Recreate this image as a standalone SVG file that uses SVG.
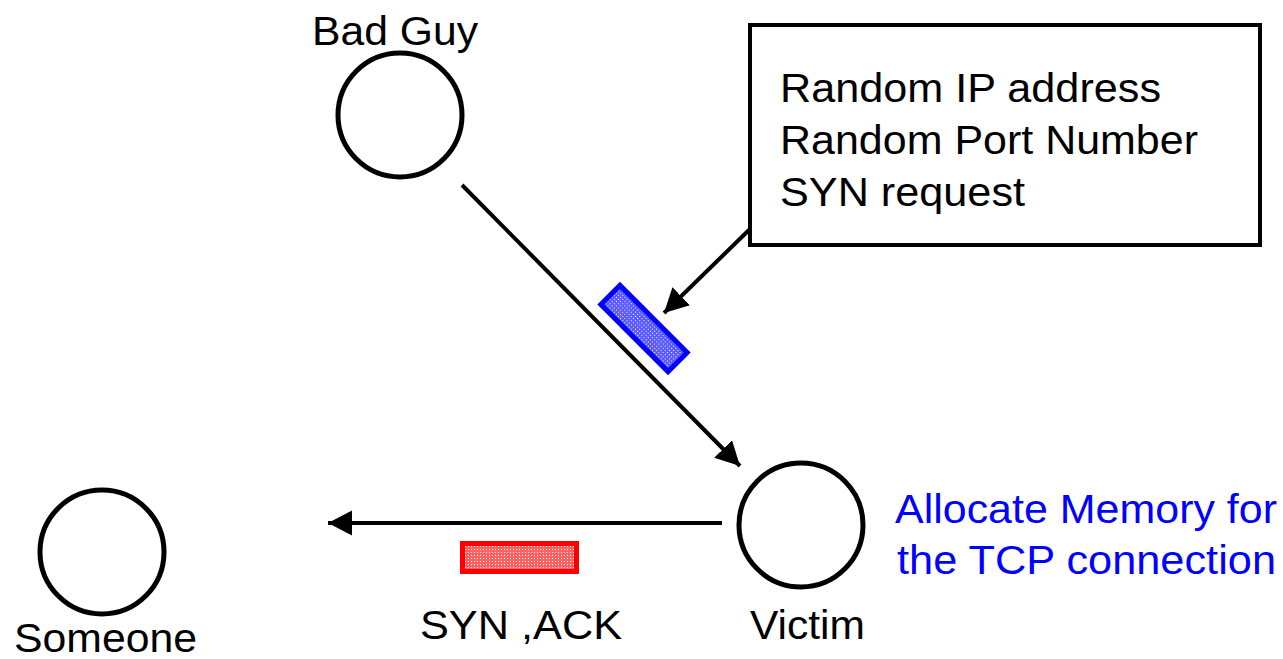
<svg xmlns="http://www.w3.org/2000/svg" width="1283" height="659" viewBox="0 0 1283 659">
  <style>
    .host { fill: none; stroke: #000; stroke-width: 5; }
    .lbl { font-family: "Liberation Sans", Arial, sans-serif; font-size: 41px; fill: #000; }
    .note { fill: #0000ff; }
    .wire { stroke: #000; stroke-width: 4; fill: none; marker-end: url(#head); }
  </style>
  <defs>
    <marker id="head" markerUnits="userSpaceOnUse" markerWidth="26" markerHeight="26" refX="24" refY="12.5" orient="auto">
      <path d="M0,0 L24,12.5 L0,25 Z" fill="#000"/>
    </marker>
    <pattern id="dotsBlue" width="3" height="3" patternUnits="userSpaceOnUse">
      <rect width="3" height="3" fill="#5a5aff"/>
      <rect width="1" height="1" fill="#ffffff"/>
    </pattern>
    <pattern id="dotsRed" width="3" height="3" patternUnits="userSpaceOnUse">
      <rect width="3" height="3" fill="#ff6060"/>
      <rect width="1" height="1" fill="#ffffff"/>
    </pattern>
  </defs>
  <rect width="1283" height="659" fill="#fff"/>

  <g id="connectors">
    <line class="wire" x1="462" y1="185" x2="740" y2="466"/>
    <line class="wire" x1="750" y1="229" x2="664" y2="313"/>
    <line class="wire" x1="722" y1="523" x2="328" y2="523"/>
  </g>

  <g id="bad-guy">
    <circle class="host" cx="400" cy="115" r="62"/>
    <text class="lbl" x="312" y="45" textLength="166" lengthAdjust="spacingAndGlyphs">Bad Guy</text>
  </g>

  <g id="someone">
    <circle class="host" cx="102" cy="552" r="62"/>
    <text class="lbl" x="14" y="652" textLength="183" lengthAdjust="spacingAndGlyphs">Someone</text>
  </g>

  <g id="victim">
    <circle class="host" cx="801" cy="525" r="62"/>
    <text class="lbl" x="750" y="639" textLength="115" lengthAdjust="spacingAndGlyphs">Victim</text>
  </g>

  <g id="packet-info">
    <rect x="750" y="25" width="510" height="220" fill="#fff" stroke="#000" stroke-width="4"/>
    <text class="lbl" x="780" y="102" textLength="381" lengthAdjust="spacingAndGlyphs">Random IP address</text>
    <text class="lbl" x="780" y="154" textLength="418" lengthAdjust="spacingAndGlyphs">Random Port Number</text>
    <text class="lbl" x="780" y="206" textLength="245" lengthAdjust="spacingAndGlyphs">SYN request</text>
  </g>

  <g id="syn-packet">
    <rect x="-47.5" y="-13.5" width="95" height="27" fill="url(#dotsBlue)" stroke="#0000ff" stroke-width="5" transform="translate(644 328.5) rotate(45)"/>
  </g>

  <g id="synack-packet">
    <rect x="462.5" y="543.5" width="114" height="28" fill="url(#dotsRed)" stroke="#ff0000" stroke-width="5"/>
    <text class="lbl" x="420" y="639" textLength="202" lengthAdjust="spacingAndGlyphs">SYN ,ACK</text>
  </g>

  <g id="memory-note">
    <text class="lbl note" x="895" y="523" textLength="382" lengthAdjust="spacingAndGlyphs">Allocate Memory for</text>
    <text class="lbl note" x="897" y="574" textLength="379" lengthAdjust="spacingAndGlyphs">the TCP connection</text>
  </g>
</svg>
